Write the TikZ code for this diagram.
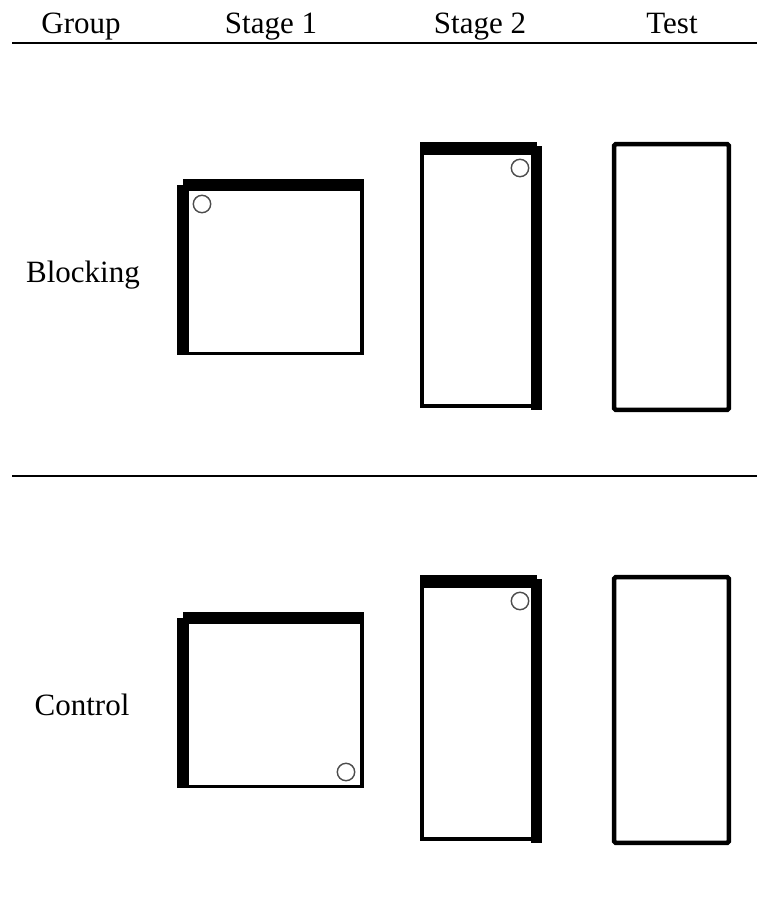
\documentclass[tikz,border=0pt]{standalone}
\usepackage{fontspec}
\setmainfont{Liberation Serif}
\begin{document}
\begin{tikzpicture}[x=1pt,y=-1pt,
  lbl/.style={anchor=base,inner sep=0pt,font=\fontsize{31}{37}\selectfont},
  rule/.style={line width=2.6pt},
  thin/.style={draw=black,line width=3.6pt,fill=white},
  wall/.style={fill=black},
  testbox/.style={draw=black,line width=4.5pt,rounded corners=1.5pt,fill=white},
  cue/.style={draw=black!70,line width=1.4pt},
]
\useasboundingbox (0,0) rectangle (757,903);
% header
\node[lbl] (hgroup) at (81,33) {Group};
\node[lbl] (hs1) at (271,33) {Stage 1};
\node[lbl] (hs2) at (480,33) {Stage 2};
\node[lbl] (htest) at (672,33) {Test};
\coordinate (r1a) at (12,43);
\coordinate (r1b) at (757,43);
\draw[rule] (r1a) -- (r1b);
\coordinate (r2a) at (12,476);
\coordinate (r2b) at (757,476);
\draw[rule] (r2a) -- (r2b);
% row labels
\node[lbl] (blocking) at (83,282) {Blocking};
\node[lbl] (control) at (82,715) {Control};

\foreach \dy/\cx/\cy in {0/202/204, 433/346/339}{
  \begin{scope}[yshift=-\dy]
  % Stage 1
  \draw[thin] (185,187) rectangle (362.2,353.3);
  \fill[wall] (177,185) rectangle (189,355);
  \fill[wall] (183,179) rectangle (364,191);
  \draw[cue] (\cx,\cy) circle (8.7);
  % Stage 2
  \draw[thin] (421.8,149) rectangle (535,406.2);
  \fill[wall] (420,142) rectangle (537,155);
  \fill[wall] (531,146) rectangle (542,410);
  \draw[cue] (520,168) circle (8.7);
  % Test
  \draw[testbox] (614.2,144.2) rectangle (728.8,409.8);
  \end{scope}
}
\end{tikzpicture}
\end{document}
